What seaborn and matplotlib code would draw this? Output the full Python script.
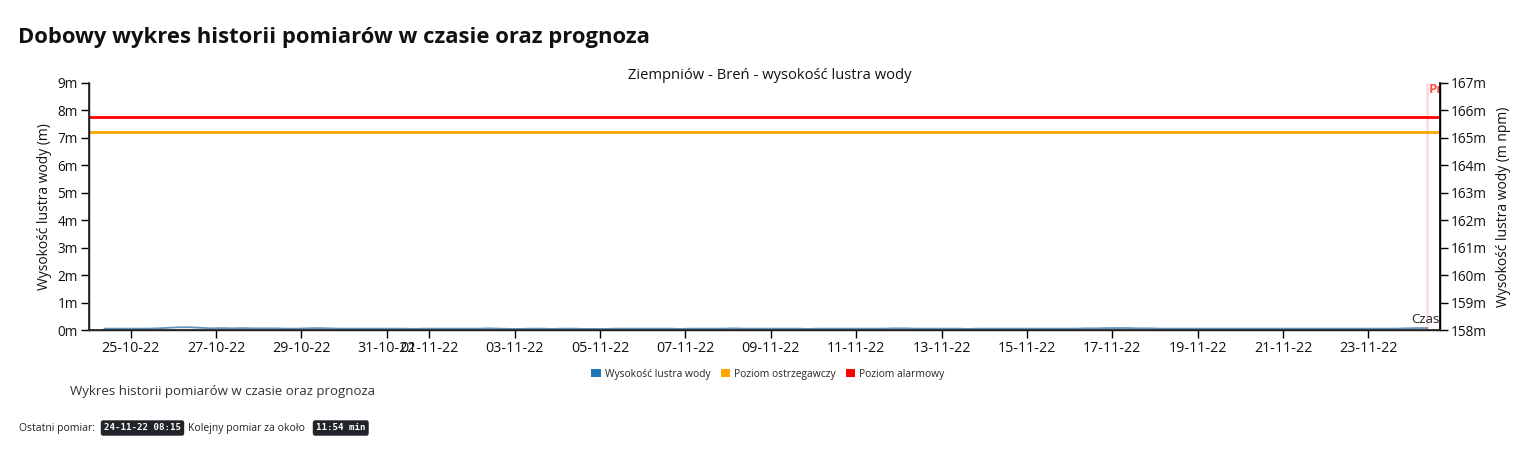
import numpy as np
import pandas as pd
import matplotlib
matplotlib.use("Agg")
import matplotlib.pyplot as plt
import matplotlib.dates as mdates
from matplotlib.patches import Patch
from matplotlib.ticker import FixedLocator, FuncFormatter
import seaborn as sns

# ---------------- data ----------------
page_title = "Dobowy wykres historii pomiarów w czasie oraz prognoza"
chart_title = "Ziempniów - Breń - wysokość lustra wody"
subtitle = "Wykres historii pomiarów w czasie oraz prognoza"
x_label = "Czas"
forecast_label = "Prognoza"
y_left_label = "Wysokość lustra wody (m)"
y_right_label = "Wysokość lustra wody (m npm)"
series_names = ["Wysokość lustra wody", "Poziom ostrzegawczy", "Poziom alarmowy"]
series_colors = ["#1f77b4", "#ffa500", "#ff0000"]

start_time = "2022-10-24 09:15"
step = "6h"
water_level = [
    0.05, 0.05, 0.05,                 # 24-10
    0.05, 0.05, 0.06, 0.08,           # 25-10
    0.10, 0.10, 0.08, 0.06,           # 26-10
    0.07, 0.06, 0.07, 0.06,           # 27-10
    0.06, 0.06, 0.05, 0.05,           # 28-10
    0.06, 0.07, 0.06, 0.05,           # 29-10
    0.05, 0.05, 0.05, 0.05,           # 30-10
    0.05, 0.05, 0.04, 0.05,           # 31-10
    0.05, 0.05, 0.05, 0.05,           # 01-11
    0.05, 0.06, 0.05, 0.04,           # 02-11
    0.04, 0.05, 0.05, 0.04,           # 03-11
    0.05, 0.05, 0.04, 0.04,           # 04-11
    0.04, 0.05, 0.05, 0.05,           # 05-11
    0.05, 0.05, 0.05, 0.04,           # 06-11
    0.05, 0.05, 0.05, 0.05,           # 07-11
    0.06, 0.05, 0.05, 0.05,           # 08-11
    0.05, 0.05, 0.05, 0.04,           # 09-11
    0.05, 0.05, 0.05, 0.05,           # 10-11
    0.05, 0.05, 0.05, 0.06,           # 11-11
    0.06, 0.05, 0.05, 0.05,           # 12-11
    0.05, 0.05, 0.04, 0.05,           # 13-11
    0.05, 0.05, 0.05, 0.05,           # 14-11
    0.05, 0.05, 0.05, 0.05,           # 15-11
    0.05, 0.06, 0.06, 0.07,           # 16-11
    0.07, 0.07, 0.06, 0.06,           # 17-11
    0.05, 0.05, 0.05, 0.05,           # 18-11
    0.05, 0.05, 0.05, 0.05,           # 19-11
    0.05, 0.05, 0.05, 0.05,           # 20-11
    0.05, 0.05, 0.05, 0.05,           # 21-11
    0.05, 0.05, 0.05, 0.05,           # 22-11
    0.05, 0.05, 0.05, 0.06,           # 23-11
    0.07, 0.07,                       # 24-11
]
warning_level = 7.2
alarm_level = 7.75
datum_offset = 158  # m npm at gauge zero

x_range = ["2022-10-24 00:35", "2022-11-24 16:20"]
tick_dates = ["2022-10-25", "2022-10-27", "2022-10-29", "2022-10-31", "2022-11-01",
              "2022-11-03", "2022-11-05", "2022-11-07", "2022-11-09", "2022-11-11",
              "2022-11-13", "2022-11-15", "2022-11-17", "2022-11-19", "2022-11-21",
              "2022-11-23"]
y_ticks = list(range(0, 10))

last_measure = "24-11-22 08:15"
next_measure = "11:54 min"

# ---------------- plot ----------------
sns.set_theme(style="ticks")
plt.rcParams["font.family"] = ["Open Sans", "DejaVu Sans"]

times = pd.date_range(start_time, periods=len(water_level), freq=step)
df = pd.DataFrame({"czas": times, "poziom": water_level})

fig = plt.figure(figsize=(15.39, 4.59), dpi=100)
ax = fig.add_axes([89 / 1539, 1 - 330 / 459, (1440 - 89) / 1539, (330 - 83) / 459])

ax.axhline(warning_level, color=series_colors[1], lw=2, zorder=2)
ax.axhline(alarm_level, color=series_colors[2], lw=2, zorder=2)
sns.lineplot(data=df, x="czas", y="poziom", ax=ax, color="#4682b4", lw=1.3, alpha=0.85, zorder=3)

# "now" marker and forecast label
now_t = times[-1]
ax.axvline(now_t, color="#ffdede", lw=2, zorder=1)
ax.text(now_t + pd.Timedelta("1h"), 8.75, forecast_label, ha="left", va="center", fontsize=9.5,
        color="#ff4d4d", fontweight="bold", clip_on=True)
# x-axis label at the right end
ax.text(1.0, 0.015, x_label, transform=ax.transAxes, ha="right", va="bottom",
        fontsize=9.5, color="#222222")

ax.set_xlim(pd.Timestamp(x_range[0]), pd.Timestamp(x_range[1]))
ax.set_ylim(0, 9)
ax.xaxis.set_major_locator(FixedLocator(mdates.date2num(pd.to_datetime(tick_dates))))
ax.xaxis.set_major_formatter(mdates.DateFormatter("%d-%m-%y"))
ax.set_yticks(y_ticks)
ax.yaxis.set_major_formatter(FuncFormatter(lambda v, p: f"{int(v)}m"))
ax.set_xlabel("")
ax.set_ylabel(y_left_label, fontsize=10, color="#111111", labelpad=4)
ax.tick_params(axis="x", labelsize=10.3, length=6, width=1, color="#000000", labelcolor="#111111", pad=2)
ax.tick_params(axis="y", labelsize=9.8, length=6, width=1, color="#000000", labelcolor="#111111", pad=2)
for s in ["left", "bottom", "right"]:
    ax.spines[s].set_color("#000000")
    ax.spines[s].set_linewidth(1)
ax.spines["top"].set_visible(False)

ax2 = ax.twinx()
ax2.set_ylim(datum_offset, datum_offset + 9)
ax2.set_yticks([datum_offset + v for v in y_ticks])
ax2.yaxis.set_major_formatter(FuncFormatter(lambda v, p: f"{int(round(v))}m"))
ax2.tick_params(axis="y", labelsize=9.8, length=6, width=1, color="#000000", labelcolor="#111111", pad=2)
ax2.set_ylabel(y_right_label, fontsize=10, color="#111111", labelpad=6)
ax2.spines["top"].set_visible(False)
ax2.spines["right"].set_color("#000000")

ax.set_title(chart_title, fontsize=10.6, color="#111111", pad=3, x=0.504)

handles = [Patch(facecolor=c, edgecolor="none") for c in series_colors]
fig.legend(handles, series_names, loc="center", bbox_to_anchor=(768 / 1539, 1 - 374 / 459),
           ncol=3, frameon=False, fontsize=7.4, handlelength=0.9, handleheight=0.9,
           handletextpad=0.4, columnspacing=1.0)

fig.text(18 / 1539, 1 - 38 / 459, page_title, fontsize=15.8, fontweight="bold",
         color="#111111", va="center", ha="left")
fig.text(70 / 1539, 1 - 392 / 459, subtitle, fontsize=9.5, color="#333333", va="center", ha="left")

fy = 1 - 428 / 459
fig.text(19 / 1539, fy, "Ostatni pomiar:", fontsize=7.5, color="#222222", va="center", ha="left")
badge = dict(boxstyle="round,pad=0.35,rounding_size=0.25", fc="#212529", ec="none")
fig.text(104 / 1539, fy, last_measure, fontsize=6.6, color="white", fontweight="bold",
         family="DejaVu Sans Mono", va="center", ha="left", bbox=badge)
fig.text(188 / 1539, fy, "Kolejny pomiar za około", fontsize=7.5, color="#222222", va="center", ha="left")
fig.text(316 / 1539, fy, next_measure, fontsize=6.6, color="white", fontweight="bold",
         family="DejaVu Sans Mono", va="center", ha="left", bbox=badge)

fig.savefig("out.png", dpi=100, facecolor="white")
